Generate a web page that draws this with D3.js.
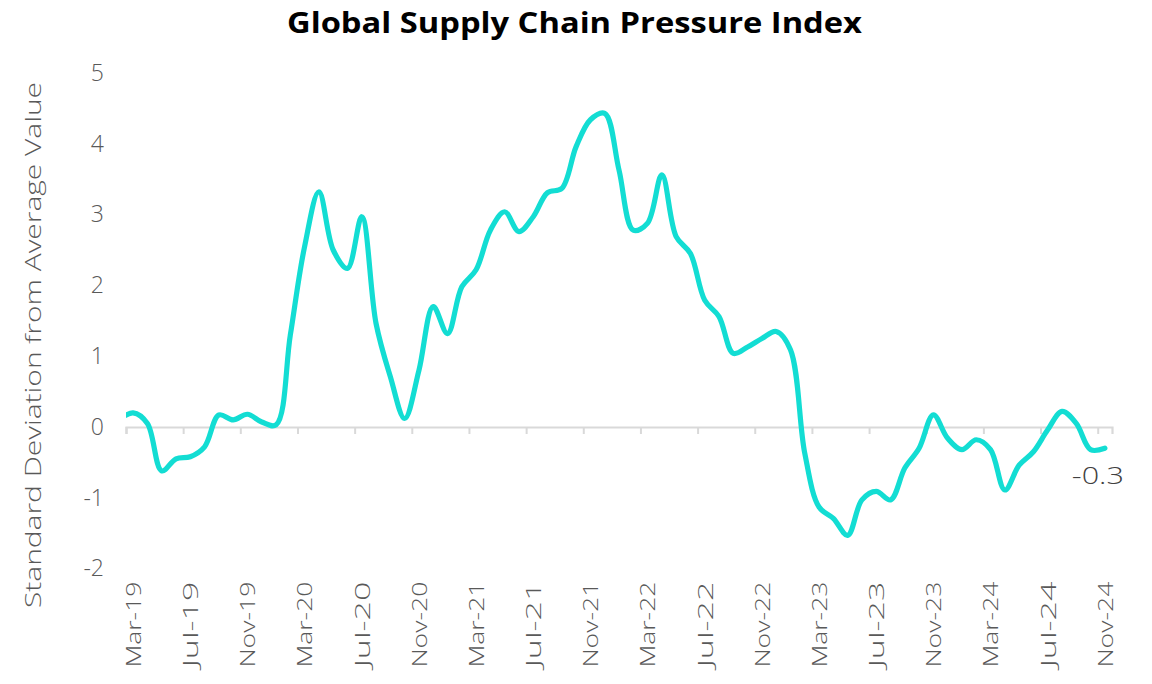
<!DOCTYPE html>
<html>
<head>
<meta charset="utf-8">
<script src="https://cdn.jsdelivr.net/npm/d3@7"></script>
<style>
  html, body { margin: 0; padding: 0; background: #ffffff; }
  svg { display: block; }
</style>
</head>
<body>
<svg id="chart" width="1152" height="684"></svg>
<script>
// ---- data ----
const months = [
  "Feb-19","Mar-19","Apr-19","May-19","Jun-19","Jul-19","Aug-19","Sep-19","Oct-19","Nov-19","Dec-19",
  "Jan-20","Feb-20","Mar-20","Apr-20","May-20","Jun-20","Jul-20","Aug-20","Sep-20","Oct-20","Nov-20","Dec-20",
  "Jan-21","Feb-21","Mar-21","Apr-21","May-21","Jun-21","Jul-21","Aug-21","Sep-21","Oct-21","Nov-21","Dec-21",
  "Jan-22","Feb-22","Mar-22","Apr-22","May-22","Jun-22","Jul-22","Aug-22","Sep-22","Oct-22","Nov-22","Dec-22",
  "Jan-23","Feb-23","Mar-23","Apr-23","May-23","Jun-23","Jul-23","Aug-23","Sep-23","Oct-23","Nov-23","Dec-23",
  "Jan-24","Feb-24","Mar-24","Apr-24","May-24","Jun-24","Jul-24","Aug-24","Sep-24","Oct-24","Nov-24"
];
const gscpi = [
  0.10, 0.20, 0.05, -0.62, -0.45, -0.42, -0.28, 0.17, 0.10, 0.18, 0.07,
  0.03, 1.30, 2.55, 3.32, 2.50, 2.24, 2.97, 1.46, 0.71, 0.12, 0.80, 1.70,
  1.32, 1.98, 2.22, 2.78, 3.04, 2.76, 2.97, 3.31, 3.37, 3.96, 4.34, 4.43,
  3.63, 2.78, 2.88, 3.56, 2.69, 2.45, 1.79, 1.56, 1.04, 1.13, 1.25, 1.35,
  1.09, -0.37, -1.13, -1.29, -1.53, -1.03, -0.91, -1.03, -0.58, -0.30, 0.17, -0.16,
  -0.32, -0.18, -0.32, -0.89, -0.54, -0.35, -0.04, 0.22, 0.05, -0.32, -0.30
];
const tickLabels = ["Mar-19","Jul-19","Nov-19","Mar-20","Jul-20","Nov-20","Mar-21","Jul-21","Nov-21",
  "Mar-22","Jul-22","Nov-22","Mar-23","Jul-23","Nov-23","Mar-24","Jul-24","Nov-24"];
const yTicks = [-2, -1, 0, 1, 2, 3, 4, 5];
const titleText = "Global Supply Chain Pressure Index";
const yTitle = "Standard Deviation from Average Value";
const endLabel = "-0.3";

// ---- layout ----
const svg = d3.select("#chart");
const firstIdx = months.indexOf("Mar-19");
const lastIdx = months.indexOf("Nov-24");
const plotL = 126, plotR = 1112, plotT = 73, plotB = 568.6;
const x = d3.scaleLinear().domain([firstIdx - 0.5, lastIdx + 0.5]).range([plotL, plotR]);
const y = d3.scaleLinear().domain([-2, 5]).range([plotB, plotT]);
const grey = "#595959";
const font = "'Open Sans', Lato, sans-serif";

// title
svg.append("text")
  .attr("x", 574.5).attr("y", 33)
  .attr("text-anchor", "middle")
  .attr("textLength", 575).attr("lengthAdjust", "spacingAndGlyphs")
  .style("font-family", font).style("font-weight", 700)
  .style("font-size", "29px").style("fill", "#000")
  .text(titleText);

// y axis
const yAxis = d3.axisLeft(y).tickValues(yTicks).tickSize(0).tickPadding(0).tickFormat(d => String(d));
const yg = svg.append("g").attr("transform", `translate(104,0)`).call(yAxis);
yg.select(".domain").remove();
yg.selectAll("text").style("font-family", font).style("font-weight", 300)
  .style("font-size", "23px").style("fill", grey);

// y title
svg.append("text")
  .attr("transform", `translate(41,345) rotate(-90)`)
  .attr("text-anchor", "middle")
  .attr("textLength", 526).attr("lengthAdjust", "spacingAndGlyphs")
  .style("font-family", font).style("font-weight", 300)
  .style("font-size", "22.5px").style("fill", grey)
  .text(yTitle);

// zero axis line with tick marks at category boundaries
const tickPos = tickLabels.map(l => months.indexOf(l) - 0.5);
const xAxisTicks = d3.axisBottom(x).tickValues(tickPos).tickSize(7).tickFormat("");
const xg = svg.append("g").attr("transform", `translate(0,${y(0)})`).call(xAxisTicks);
xg.select(".domain").attr("stroke", "#d9d9d9").attr("stroke-width", 2.2);
xg.selectAll(".tick line").attr("stroke", "#d9d9d9").attr("stroke-width", 2);

// x labels at bottom (low position)
const labelAxis = d3.axisBottom(x).tickValues(tickLabels.map(l => months.indexOf(l)))
  .tickSize(0).tickFormat(i => months[i]);
const lg = svg.append("g").attr("transform", `translate(0,${plotB + 10})`).call(labelAxis);
lg.select(".domain").remove();
lg.selectAll("text")
  .attr("transform", "rotate(-90)")
  .attr("text-anchor", "end")
  .attr("x", -3).attr("y", 0).attr("dy", "0.35em")
  .attr("textLength", 86).attr("lengthAdjust", "spacingAndGlyphs")
  .style("font-family", font).style("font-weight", 300)
  .style("font-size", "21px").style("fill", grey);

// clip
svg.append("clipPath").attr("id", "plotclip")
  .append("rect").attr("x", plotL).attr("y", 0).attr("width", plotR - plotL + 10).attr("height", 684);

// line
const line = d3.line()
  .x((d, i) => x(i))
  .y(d => y(d))
  .curve(d3.curveCatmullRom.alpha(0.5));
svg.append("path")
  .datum(gscpi)
  .attr("clip-path", "url(#plotclip)")
  .attr("d", line)
  .attr("fill", "none")
  .attr("stroke", "#13ddd3")
  .attr("stroke-width", 5.2)
  .attr("stroke-linecap", "round")
  .attr("stroke-linejoin", "round");

// end label
svg.append("text")
  .attr("x", x(lastIdx) - 7).attr("y", y(gscpi[lastIdx]) + 36)
  .attr("text-anchor", "middle")
  .attr("textLength", 52).attr("lengthAdjust", "spacingAndGlyphs")
  .style("font-family", font).style("font-weight", 300)
  .style("font-size", "24px").style("fill", "#404040")
  .text(endLabel);
</script>
</body>
</html>
